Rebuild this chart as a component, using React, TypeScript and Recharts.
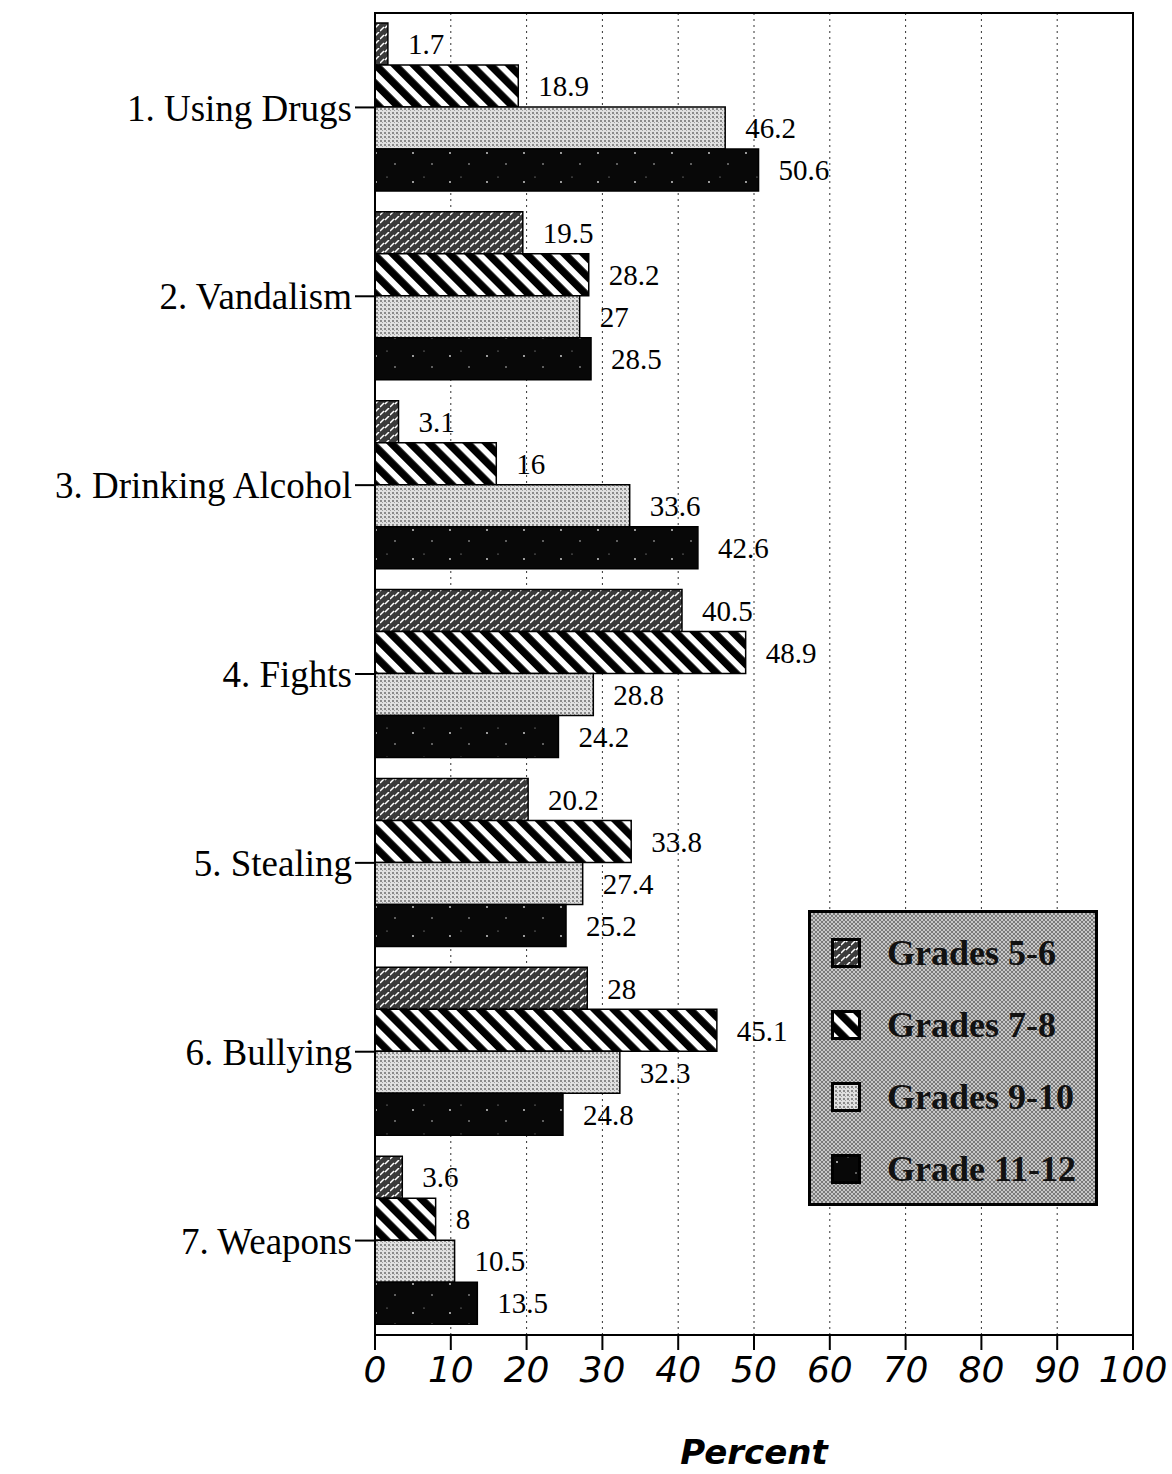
import React from 'react';
import {
  BarChart, Bar, XAxis, YAxis, CartesianGrid, LabelList, Legend, ReferenceArea,
} from 'recharts';

const categories = [
  '1. Using Drugs',
  '2. Vandalism',
  '3. Drinking Alcohol',
  '4. Fights',
  '5. Stealing',
  '6. Bullying',
  '7. Weapons',
];

const grades56 = [1.7, 19.5, 3.1, 40.5, 20.2, 28, 3.6];
const grades78 = [18.9, 28.2, 16, 48.9, 33.8, 45.1, 8];
const grades910 = [46.2, 27, 33.6, 28.8, 27.4, 32.3, 10.5];
const grades1112 = [50.6, 28.5, 42.6, 24.2, 25.2, 24.8, 13.5];

const xTicks = [0, 10, 20, 30, 40, 50, 60, 70, 80, 90, 100];

const series = [
  { key: 'g56', name: 'Grades 5-6', fill: 'url(#p56)' },
  { key: 'g78', name: 'Grades 7-8', fill: 'url(#p78)' },
  { key: 'g910', name: 'Grades 9-10', fill: 'url(#p910)' },
  { key: 'g1112', name: 'Grade 11-12', fill: 'url(#p1112)' },
];

const data = categories.map((name, i) => ({
  name,
  g56: grades56[i],
  g78: grades78[i],
  g910: grades910[i],
  g1112: grades1112[i],
}));

const serif = '"Liberation Serif", "DejaVu Serif", serif';

function Patterns() {
  return (
    <svg width={0} height={0} style={{ position: 'absolute' }}>
      <defs>
        <pattern id="p56" width="10" height="8" patternUnits="userSpaceOnUse">
          <rect width="10" height="8" fill="#3a3a3a" />
          <path d="M0 7 L4 3 M5 4 L9 0" stroke="#fff" strokeWidth="1.5" />
        </pattern>
        <pattern id="p78" width="13.5" height="13.5" patternUnits="userSpaceOnUse"
          patternTransform="rotate(-45)">
          <rect width="13.5" height="13.5" fill="#fff" />
          <rect width="7.5" height="13.5" fill="#000" />
        </pattern>
        <pattern id="p910" width="4" height="4" patternUnits="userSpaceOnUse">
          <rect width="4" height="4" fill="#e0e0e0" />
          <rect width="2" height="2" fill="#8a8a8a" />
          <rect x="2" y="2" width="1" height="1" fill="#a0a0a0" />
        </pattern>
        <pattern id="p1112" width="37" height="29" patternUnits="userSpaceOnUse">
          <rect width="37" height="29" fill="#080808" />
          <circle cx="6" cy="8" r="0.9" fill="#ddd" />
          <circle cx="25" cy="19" r="0.8" fill="#ccc" />
          <circle cx="17" cy="3" r="0.6" fill="#bbb" />
        </pattern>
      </defs>
    </svg>
  );
}

function LegendBox() {
  return (
    <div
      style={{
        width: 290,
        height: 296,
        border: '3px solid #000',
        background: 'repeating-conic-gradient(#7a7a7a 0 25%, #c8c8c8 0 50%) 0 0/4px 4px',
        boxSizing: 'border-box',
        padding: '4px 0 0 20px',
      }}
    >
      {series.map((s) => (
        <div key={s.key} style={{ display: 'flex', alignItems: 'center', height: 72 }}>
          <svg width={30} height={30} style={{ marginRight: 26 }}>
            <rect x={1.5} y={1.5} width={27} height={27} fill={s.fill} stroke="#000" strokeWidth={3} />
          </svg>
          <span style={{ fontFamily: serif, fontSize: 36, fontWeight: 'bold', color: '#111' }}>{s.name}</span>
        </div>
      ))}
    </div>
  );
}

export default function App() {
  return (
    <div style={{ position: 'absolute', left: 0, top: 0, background: '#fff' }}>
      <Patterns />
      <BarChart
        width={1172}
        height={1474}
        data={data}
        layout="vertical"
        margin={{ top: 13, right: 39, left: 0, bottom: 0 }}
        barCategoryGap={10}
        barGap={0}
      >
        <CartesianGrid horizontal={false} stroke="#333" strokeDasharray="2 4" />
        <XAxis
          type="number"
          domain={[0, 100]}
          ticks={xTicks}
          height={139}
          tickSize={15}
          tickMargin={6}
          axisLine={{ stroke: '#000', strokeWidth: 2 }}
          tickLine={{ stroke: '#000', strokeWidth: 2 }}
          tick={{ fill: '#000', fontSize: 36, fontStyle: 'italic', fontFamily: '"DejaVu Sans", sans-serif' }}
          label={{
            value: 'Percent', position: 'insideBottom', offset: 10,
            style: { fill: '#000', fontSize: 34, fontStyle: 'italic', fontWeight: 'bold', fontFamily: '"DejaVu Sans", sans-serif' },
          }}
        />
        <YAxis
          type="category"
          dataKey="name"
          width={375}
          tickSize={20}
          tickMargin={3}
          axisLine={{ stroke: '#000', strokeWidth: 2 }}
          tickLine={{ stroke: '#000', strokeWidth: 2 }}
          tick={{ fill: '#000', fontSize: 37, fontFamily: serif }}
        />
        <ReferenceArea x1={0} x2={100} fill="none" stroke="#000" strokeWidth={2} />
        {series.map((s) => (
          <Bar key={s.key} dataKey={s.key} name={s.name} fill={s.fill} stroke="#000" strokeWidth={1.5} isAnimationActive={false}>
            <LabelList dataKey={s.key} position="right" offset={20} style={{ fill: '#000', fontSize: 29, fontFamily: serif }} />
          </Bar>
        ))}
        <Legend
          layout="vertical"
          align="center"
          verticalAlign="middle"
          content={() => <LegendBox />}
          wrapperStyle={{ left: 808, top: 910, width: 290, height: 296 }}
        />
      </BarChart>
    </div>
  );
}
